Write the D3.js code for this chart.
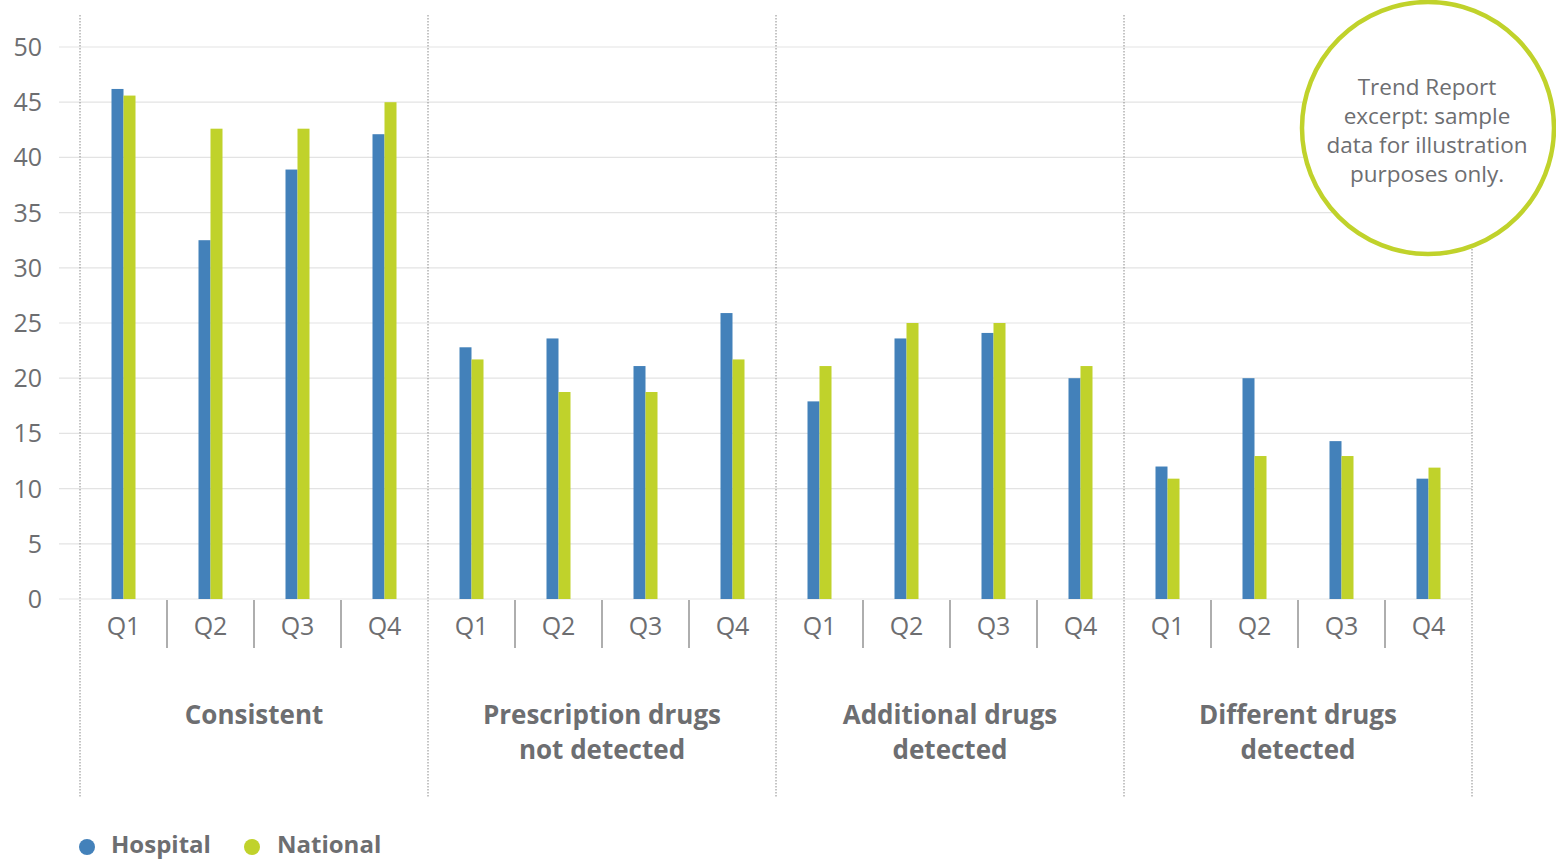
<!DOCTYPE html>
<html><head><meta charset="utf-8">
<script src="https://cdn.jsdelivr.net/npm/d3@7"></script>
<style>body{margin:0;background:#fff}svg{display:block;font-family:"Open Sans","Noto Sans",sans-serif}</style>
</head><body><svg id="c" width="1556" height="859"></svg>
<script>
const groups = [["Consistent"],["Prescription drugs","not detected"],["Additional drugs","detected"],["Different drugs","detected"]];
const quarters = ["Q1","Q2","Q3","Q4"];
const hospital = [[46.2,32.5,38.9,42.1],[22.8,23.6,21.1,25.9],[17.9,23.6,24.1,20.0],[12.0,20.0,14.3,10.9]];
const national = [[45.6,42.6,42.6,45.0],[21.7,18.75,18.75,21.7],[21.1,25.0,25.0,21.1],[10.9,12.95,12.95,11.9]];
const yTicks = [0,5,10,15,20,25,30,35,40,45,50];
const seriesNames = ["Hospital","National"];
const note = ["Trend Report","excerpt: sample","data for illustration","purposes only."];

const blue="#4381ba", green="#c0d22b", txt="#6d6e71";
const svg=d3.select("#c");
const y=d3.scaleLinear().domain([0,50]).range([599,47]);
const gx=d3.scaleBand().domain(d3.range(groups.length)).range([80,1472]).padding(0);
const qx=d3.scaleBand().domain(quarters).range([0,gx.bandwidth()]).padding(0);
const bw=12;

svg.append("g").selectAll("line").data(yTicks).join("line")
  .attr("x1",59).attr("x2",1472).attr("y1",d=>y(d)).attr("y2",d=>y(d))
  .attr("stroke","#e3e3e3").attr("stroke-width",1.2);
svg.append("g").selectAll("text").data(yTicks).join("text")
  .attr("x",42).attr("y",d=>y(d)).attr("dy","0.36em").attr("text-anchor","end")
  .attr("font-size",25).attr("fill",txt).text(d=>d);

const bounds=d3.range(groups.length+1).map(i=>i<groups.length?gx(i):gx(groups.length-1)+gx.bandwidth());
svg.append("g").selectAll("line").data(bounds).join("line")
  .attr("x1",d=>d).attr("x2",d=>d).attr("y1",15).attr("y2",797)
  .attr("stroke","#8a8a8a").attr("stroke-width",1).attr("stroke-dasharray","1.5,1.5");

groups.forEach((g,gi)=>{
  const gg=svg.append("g").attr("transform",`translate(${gx(gi)},0)`);
  quarters.forEach((q,qi)=>{
    const cx=qx(q)+qx.bandwidth()/2;
    gg.append("rect").attr("x",cx-bw).attr("width",bw).attr("y",y(hospital[gi][qi])).attr("height",y(0)-y(hospital[gi][qi])).attr("fill",blue);
    gg.append("rect").attr("x",cx).attr("width",bw).attr("y",y(national[gi][qi])).attr("height",y(0)-y(national[gi][qi])).attr("fill",green);
    gg.append("text").attr("x",cx).attr("y",626).attr("dy","0.36em").attr("text-anchor","middle").attr("font-size",25).attr("fill",txt).text(q);
    if(qi>0) gg.append("line").attr("x1",qx(q)).attr("x2",qx(q)).attr("y1",600).attr("y2",648).attr("stroke","#9a9a9a").attr("stroke-width",1.6);
  });
  const t=gg.append("text").attr("x",gx.bandwidth()/2).attr("text-anchor","middle").attr("font-size",26).attr("font-weight","bold").attr("fill",txt);
  g.forEach((l,li)=>t.append("tspan").attr("x",gx.bandwidth()/2).attr("y",724+li*35).text(l));
});

const lg=svg.append("g");
[[87,111],[252,277]].forEach((p,i)=>{
  lg.append("circle").attr("cx",p[0]).attr("cy",847).attr("r",8).attr("fill",i?green:blue);
  lg.append("text").attr("x",p[1]).attr("y",844).attr("dy","0.36em").attr("font-size",24).attr("font-weight","bold").attr("fill",txt).text(seriesNames[i]);
});

svg.append("circle").attr("cx",1428).attr("cy",128).attr("r",126).attr("fill","#fff").attr("stroke",green).attr("stroke-width",4.5);
svg.append("g").selectAll("text").data(note).join("text")
  .attr("x",1427).attr("y",(d,i)=>87+i*29).attr("dy","0.36em").attr("text-anchor","middle")
  .attr("font-size",22.5).attr("fill",txt).text(d=>d);
</script></body></html>
